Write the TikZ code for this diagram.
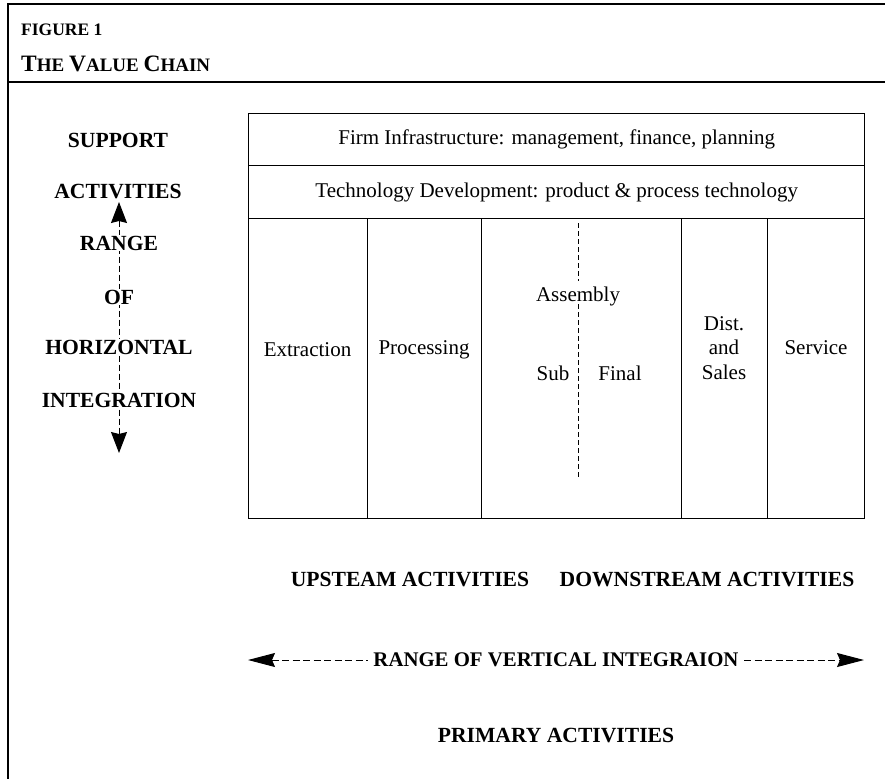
\documentclass[tikz,border=0pt]{standalone}
\usepackage{fontspec}
\setmainfont{Liberation Serif}
\usetikzlibrary{arrows.meta}

\tikzset{
  longtip/.tip={Stealth[length=21pt, width=16pt, inset=2pt]},
  widetip/.tip={Stealth[length=27pt, width=14pt, inset=3pt]},
}

\begin{document}
\begin{tikzpicture}[x=1pt,y=-1pt,
  rule/.style={line width=1.5pt},
  cell/.style={draw, line width=1.4pt, inner sep=0pt, anchor=north west},
  caps/.style={font=\fontsize{21.6}{25}\selectfont\bfseries, inner sep=1pt},
  plain/.style={font=\fontsize{21}{24.5}\selectfont, inner sep=1pt, align=center},
  dashline/.style={line width=1pt, dash pattern=on 5pt off 3pt},
]
\useasboundingbox (0,0) rectangle (885,779);

% outer frame and heading rule
\draw[rule] (885,4) -- (8,4) -- (8,779);
\draw[rule] (8,82) -- (885,82);

% heading
\node[anchor=west, inner sep=0pt, font=\fontsize{17.5}{20}\selectfont\bfseries] (fig) at (21,30) {FIGURE 1};
\node[anchor=base west, inner sep=0pt, font=\bfseries] (title) at (21,71)
  {\fontsize{23.5}{25}\selectfont T\fontsize{19}{21}\selectfont HE
   \fontsize{23.5}{25}\selectfont V\fontsize{19}{21}\selectfont ALUE
   \fontsize{23.5}{25}\selectfont C\fontsize{19}{21}\selectfont HAIN};

% support activity rows
\node[cell, minimum width=616pt, minimum height=52pt] (firm) at (248,113) {};
\node[cell, minimum width=616pt, minimum height=53pt] (tech) at (248,165) {};
\node[plain] (firmtxt) at (firm.center) {Firm Infrastructure: management, finance, planning};
\node[plain] (techtxt) at (tech.center) {Technology Development: product \& process technology};

% primary activity columns
\node[cell, minimum width=119pt, minimum height=300pt] (extr) at (248,218) {};
\node[cell, minimum width=114pt, minimum height=300pt] (proc) at (367,218) {};
\node[cell, minimum width=200pt, minimum height=300pt] (asm)  at (481,218) {};
\node[cell, minimum width=86pt,  minimum height=300pt] (dist) at (681,218) {};
\node[cell, minimum width=97pt,  minimum height=300pt] (serv) at (767,218) {};

\node[plain] (extrtxt) at (307.5,350) {Extraction};
\node[plain] (proctxt) at (424,350) {Processing};
\node[plain] (asmtxt)  at (578,296) {Assembly};
\node[plain] (subtxt)  at (553,373) {Sub};
\node[plain] (fintxt)  at (620,373) {Final};
\node[plain] (disttxt) at (724,348) {Dist.\\and\\Sales};
\node[plain] (servtxt) at (816,348) {Service};

% sub / final assembly split
\coordinate (asmA) at (578,223);
\coordinate (asmB) at (578,281);
\coordinate (asmC) at (578,304);
\coordinate (asmD) at (578,477);
\draw[dashline] (asmA) -- (asmB);
\draw[dashline] (asmC) -- (asmD);

% range of horizontal integration
\coordinate (htop) at (119,202);
\coordinate (hbot) at (119,453);
\draw[line width=1pt, dash pattern=on 6pt off 3pt, longtip-longtip] (htop) -- (hbot);

\node[caps] (support) at (118,140) {SUPPORT};
\node[caps] (activ)   at (118,192) {ACTIVITIES};
\node[caps, fill=white] (range) at (119,243) {RANGE};
\node[caps, fill=white] (of)    at (119,297) {OF};
\node[caps, fill=white] (horiz) at (119,347) {HORIZONTAL};
\node[caps, fill=white] (integ) at (119,400) {INTEGRATION};

% upstream / downstream
\node[caps] (up)   at (410,580) {UPSTEAM ACTIVITIES};
\node[caps] (down) at (707,580) {DOWNSTREAM ACTIVITIES};

% range of vertical integration
\coordinate (vleft)  at (248,660);
\coordinate (vright) at (864,660);
\draw[line width=1pt, dash pattern=on 7pt off 3.5pt, widetip-widetip] (vleft) -- (vright);
\node[caps, fill=white, inner xsep=5pt, font=\fontsize{20.8}{25}\selectfont\bfseries] (vrange) at (556,660) {RANGE OF VERTICAL INTEGRAION};

\node[caps] (primary) at (556,735) {PRIMARY ACTIVITIES};
\end{tikzpicture}
\end{document}
